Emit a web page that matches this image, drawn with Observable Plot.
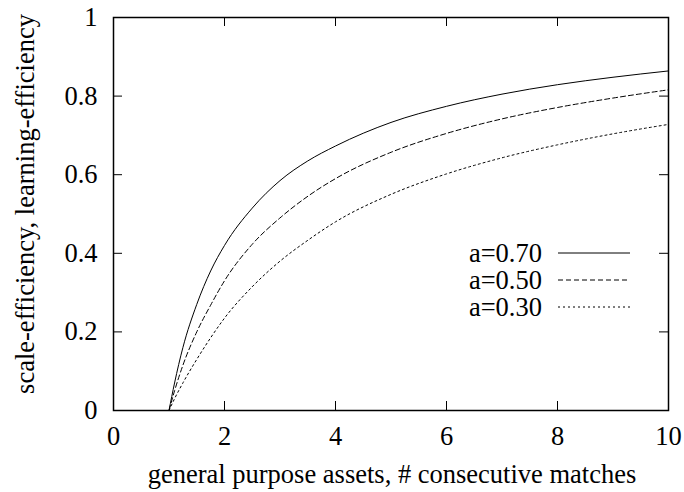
<!DOCTYPE html>
<html><head><meta charset="utf-8">
<script src="https://cdn.jsdelivr.net/npm/d3@7"></script>
<script src="https://cdn.jsdelivr.net/npm/@observablehq/plot@0.6"></script>
<style>
html,body{margin:0;padding:0;background:#fff;}
</style>
</head><body>
<div id="chart"></div>
<script>
const xs  = [1, 1.1, 1.25, 1.5, 1.75, 2, 2.5, 3, 3.5, 4, 5, 6, 7, 8, 9, 10];
const a70 = [0, 0.07, 0.16, 0.27, 0.355, 0.42, 0.515, 0.585, 0.635, 0.673, 0.733, 0.774, 0.805, 0.829, 0.848, 0.864];
const a50 = [0, 0.05, 0.115, 0.2, 0.268, 0.33, 0.423, 0.49, 0.545, 0.59, 0.657, 0.705, 0.742, 0.771, 0.795, 0.816];
const a30 = [0, 0.03, 0.07, 0.13, 0.185, 0.235, 0.315, 0.38, 0.433, 0.48, 0.55, 0.602, 0.643, 0.676, 0.704, 0.728];
const seriesNames = ["a=0.70", "a=0.50", "a=0.30"];
const seriesValues = [a70, a50, a30];
const xTicks = [0, 2, 4, 6, 8, 10];
const yTicks = [0, 0.2, 0.4, 0.6, 0.8, 1];
const xLabel = "general purpose assets, # consecutive matches";
const yLabel = "scale-efficiency, learning-efficiency";

const dashes = [null, "5,3", "2,3"];
const font = "'Liberation Serif', 'Times New Roman', serif";
const fontSize = 26.5;

const W = 684, H = 492;
const mL = 113, mR = 16, mT = 17, mB = 82;
const plotH = H - mT - mB, plotW = W - mL - mR;
const tickLen = 9;

const data = [];
seriesNames.forEach((name, i) => {
  xs.forEach((x, j) => data.push({series: name, x, y: seriesValues[i][j]}));
});

const curveMarks = seriesNames.map((name, i) =>
  Plot.line(data.filter(d => d.series === name), {
    x: "x", y: "y", curve: "monotone-x", stroke: "black", strokeWidth: 1,
    strokeDasharray: dashes[i]
  })
);

function labelsMark(index, scales, values, dims) {
  const g = d3.create("svg:g").attr("font-family", font).attr("font-size", fontSize).attr("fill", "black");
  // axis titles
  g.append("text").attr("x", 392).attr("y", 483).attr("text-anchor", "middle").text(xLabel);
  g.append("text").attr("transform", "translate(34,204) rotate(-90)").attr("text-anchor", "middle").text(yLabel);
  // legend
  const textRight = 542, lineX1 = 558, lineX2 = 630, y0 = 253, step = 27;
  seriesNames.forEach((name, i) => {
    const y = y0 + i * step;
    g.append("text").attr("x", textRight).attr("y", y).attr("dy", "0.35em")
      .attr("text-anchor", "end").text(name);
    g.append("line").attr("x1", lineX1).attr("x2", lineX2).attr("y1", y).attr("y2", y)
      .attr("stroke", "black").attr("stroke-width", 1)
      .attr("stroke-dasharray", dashes[i]);
  });
  return g.node();
}

const chart = Plot.plot({
  width: W, height: H,
  marginLeft: mL, marginRight: mR, marginTop: mT, marginBottom: mB,
  style: {fontFamily: font, fontSize: fontSize + "px", background: "white", color: "black"},
  x: {domain: [0, 10]},
  y: {domain: [0, 1]},
  marks: [
    Plot.axisX({ticks: xTicks, tickSize: 0, tickPadding: 16, label: null, tickFormat: d3.format("~g")}),
    Plot.axisY({ticks: yTicks, tickSize: 0, tickPadding: 16, label: null, tickFormat: d3.format("~g")}),
    Plot.tickX(xTicks, {x: d => d, insetTop: plotH - tickLen, stroke: "black"}),
    Plot.tickX(xTicks, {x: d => d, insetBottom: plotH - tickLen, stroke: "black"}),
    Plot.tickY(yTicks, {y: d => d, insetRight: plotW - tickLen, stroke: "black"}),
    Plot.tickY(yTicks, {y: d => d, insetLeft: plotW - tickLen, stroke: "black"}),
    ...curveMarks,
    Plot.frame({stroke: "black", strokeWidth: 1.5}),
    labelsMark
  ]
});
document.getElementById("chart").appendChild(chart);
</script>
</body></html>
